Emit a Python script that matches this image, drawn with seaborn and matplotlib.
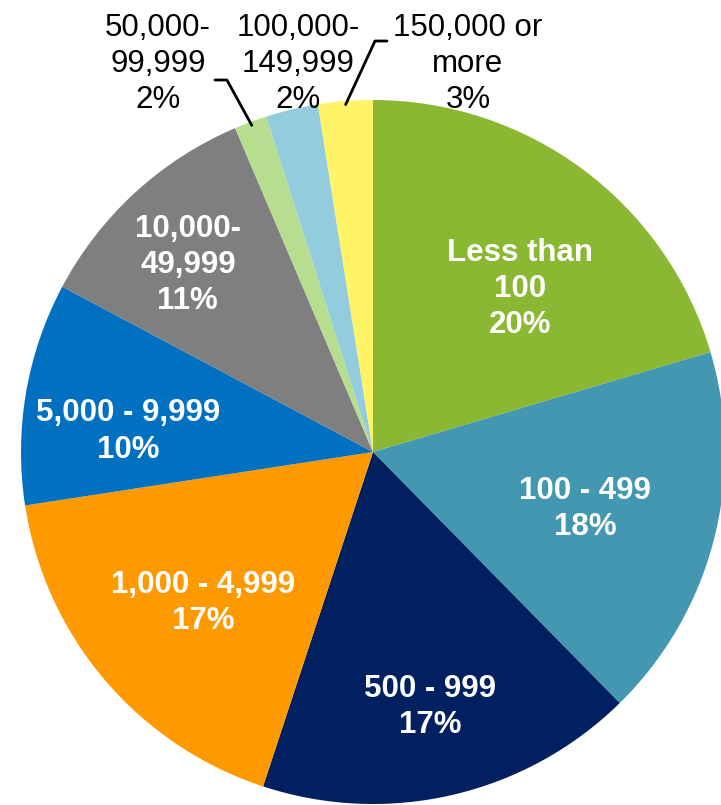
import matplotlib
matplotlib.use("Agg")
import matplotlib.pyplot as plt
import seaborn as sns
import numpy as np

sns.set_theme(style="white")
plt.rcParams['font.family'] = ['Liberation Sans', 'DejaVu Sans']

categories = ["Less than\n100", "100 - 499", "500 - 999", "1,000 - 4,999", "5,000 - 9,999",
              "10,000-\n49,999", "50,000-\n99,999", "100,000-\n149,999", "150,000 or\nmore"]
shares = [20.4, 17.2, 17.4, 17.5, 10.2, 10.8, 1.5, 2.4, 2.5]
pct_labels = ["20%", "18%", "17%", "17%", "10%", "11%", "2%", "2%", "3%"]
colors = ["#8AB833", "#4397B0", "#012060", "#FF9900", "#0070C0",
          "#7F7F7F", "#B7DD8E", "#93CDDD", "#FFF466"]

# label placement (data coords, pie radius = 1)
label_pos = [(0.418, 0.463), (0.602, -0.163), (0.162, -0.725), (-0.483, -0.43),
             (-0.696, 0.058), (-0.526, 0.531), (-0.611, 1.103), (-0.213, 1.103), (0.270, 1.103)]
inside = [True, True, True, True, True, True, False, False, False]
leader_knees = {6: [(-0.449, 1.0568), (-0.415, 1.0568)], 8: [(0.0398, 1.1676), (0.0057, 1.1676)]}

W, H = 721, 805
fig = plt.figure(figsize=(W / 100, H / 100), dpi=100)
ax = fig.add_axes([0, 0, 1, 1])
wedges, _ = ax.pie(shares, colors=colors, startangle=90, counterclock=False,
                   radius=1, center=(0, 0), wedgeprops=dict(linewidth=0))
cx, cy, R = 373, 452, 352
ax.set_xlim(-cx / R, (W - cx) / R)
ax.set_ylim(-(H - cy) / R, cy / R)
ax.set_aspect('auto')
ax.axis('off')

for i, (cat, pct) in enumerate(zip(categories, pct_labels)):
    x, y = label_pos[i]
    if inside[i]:
        ax.text(x, y, f"{cat}\n{pct}", ha='center', va='center', color='white',
                fontsize=22.5, fontweight='bold', linespacing=1.27)
    else:
        ax.text(x, y, f"{cat}\n{pct}", ha='center', va='center', color='black',
                fontsize=22.5, linespacing=1.27)

for i, knees in leader_knees.items():
    w = wedges[i]
    mid = np.deg2rad((w.theta1 + w.theta2) / 2)
    end = (0.99 * np.cos(mid), 0.99 * np.sin(mid))
    xs = [knees[0][0], knees[1][0], end[0]]
    ys = [knees[0][1], knees[1][1], end[1]]
    ax.plot(xs, ys, color='black', linewidth=2)

fig.savefig("out.png", dpi=100)
